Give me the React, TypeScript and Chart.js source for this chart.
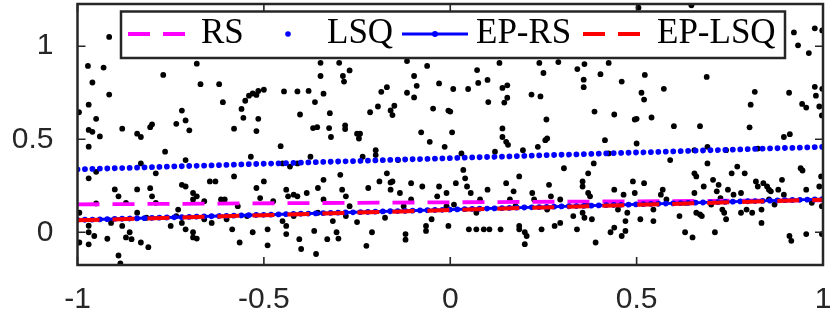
import React, { useEffect, useRef } from "react";
import { Chart, registerables } from "chart.js";

Chart.register(...registerables);

// ---- data ----
const xTickValues = [-1, -0.5, 0, 0.5, 1];
const yTickValues = [0, 0.5, 1];
const seriesNames = ["RS", "LSQ", "EP-RS", "EP-LSQ"];

const lineX = [-1, 1];
const rsY = [0.15, 0.172];
const lsqY = [0.338, 0.459];
const epRsY = [0.066, 0.178];
const epLsqY = [0.064, 0.175];

const sampleX = [
  -0.996, -0.972, -0.96, -0.97, -0.95, -0.97, -0.96, -0.94, -0.97, -0.93, -0.915, -0.915, -0.97, -0.95, -0.95, -0.995, -0.97, -0.97, -0.955, -0.995, -0.97, -0.92, -0.91, -0.9, -0.89, -0.885,
  -0.88, -0.84, -0.83, -0.805, -0.8, -0.89, -0.87, -0.84, -0.88, -0.87, -0.86, -0.855, -0.83, -0.81, -0.83, -0.805, -0.8, -0.79, -0.815, -0.84,
  -0.77, -0.765, -0.75, -0.735, -0.72, -0.71, -0.7, -0.73, -0.72, -0.71, -0.72, -0.71, -0.735, -0.79, -0.71,
  -0.68, -0.67, -0.69, -0.68, -0.69, -0.69, -0.68, -0.69, -0.66, -0.645, -0.63, -0.62, -0.61, -0.615, -0.64, -0.66, -0.605, -0.6,
  -0.58, -0.56, -0.555, -0.55, -0.54, -0.53, -0.52, -0.515, -0.515, -0.52, -0.535, -0.58, -0.57, -0.585, -0.565, -0.52, -0.53, -0.51, -0.545,
  -0.5, -0.49, -0.49, -0.475, -0.455, -0.45, -0.45, -0.44, -0.44, -0.435, -0.42, -0.41, -0.43, -0.41, -0.405, -0.4, -0.42, -0.44,
  -0.385, -0.375, -0.36, -0.365, -0.355, -0.355, -0.34, -0.34, -0.32, -0.315, -0.305, -0.3, -0.33,
  -0.295, -0.29, -0.28, -0.27, -0.25, -0.245, -0.235, -0.225, -0.21, -0.2, -0.2, -0.22, -0.28, -0.25,
  -0.19, -0.17, -0.16, -0.155, -0.16, -0.14, -0.125, -0.12, -0.12, -0.105, -0.135, -0.105, -0.175,
  -0.075, -0.065, -0.065, -0.055, -0.05, -0.035, -0.03, -0.015, -0.005, -0.01, -0.01,
  0.01, 0.03, 0.035, 0.015, 0.04, 0.045, 0.05, 0.055, 0.07, 0.07, 0.08, 0.09, 0.1,
  0.105, 0.12, 0.135, 0.14, 0.15, 0.155, 0.16, 0.15, 0.17, 0.175, 0.185, 0.185, 0.195, 0.2, 0.2, 0.185,
  0.205, 0.22, 0.235, 0.225, 0.245, 0.255, 0.26, 0.265, 0.27, 0.28, 0.295, 0.295, 0.26,
  0.305, 0.33, 0.34, 0.355, 0.355, 0.355, 0.36, 0.365, 0.375, 0.39, 0.385, 0.38, 0.37, 0.37,
  0.415, 0.425, 0.43, 0.44, 0.44, 0.45, 0.46, 0.465, 0.47, 0.49, 0.495, 0.475, 0.47,
  0.5, 0.51, 0.52, 0.545, 0.565, 0.57, 0.58, 0.59, 0.545,
  0.615, 0.63, 0.65, 0.655, 0.655, 0.66, 0.66, 0.67, 0.675, 0.69, 0.68, 0.69, 0.7, 0.655, 0.63,
  0.71, 0.705, 0.715, 0.72, 0.725, 0.73, 0.735, 0.74, 0.745, 0.755, 0.76, 0.77, 0.78, 0.78, 0.79, 0.795, 0.74,
  0.81, 0.82, 0.825, 0.835, 0.825, 0.835, 0.84, 0.85, 0.855, 0.855, 0.86, 0.87, 0.88, 0.895, 0.89, 0.895,
  0.91, 0.915, 0.94, 0.945, 0.955, 0.955, 0.995, 0.99, 0.997, 0.97, 0.997,
  -0.5, -0.348, -0.298, -0.27, -0.288, -0.285, -0.062, -0.348, -0.097, -0.09, -0.03, -0.116, -0.446, -0.41, -0.38, -0.34, -0.185, -0.17, -0.116, -0.097, -0.363, -0.403, -0.323, -0.215, -0.194, -0.16, -0.155, -0.15, -0.046, -0.005, -0.368, -0.357, -0.325, -0.282, -0.282, -0.242, -0.078,
  0.132, 0.239, 0.29, 0.36, 0.425, 0.072, 0.341, 0.25, 0.403, 0.075, 0.1, 0.008, 0.048, 0.14, 0.153, 0.358, 0.358, 0.46, 0.218, 0.242, 0.102, 0.153, 0.145, 0.0, 0.387, 0.44, 0.258, 0.495, 0.14, 0.005,
  0.505, 0.647, 0.922, 0.978, 0.998, 0.933, 0.962, 0.522, 0.688, 0.513, 0.52, 0.573, 0.817, 0.909, 0.978, 0.998, 0.981, 0.806, 0.944, 0.955, 0.99, 0.997, 0.5, 0.54, 0.6, 0.67, 0.803, 0.911,
];

const sampleY = [
  0.645, 0.894, 0.805, 0.686, 0.61, 0.55, 0.54, 0.515, 0.46, 0.885, 1.05, 0.74, 0.29, 0.325, 0.155, 0.105, 0.035, 0.0, -0.02, -0.055, -0.065, -0.035, 0.05, 0.23, -0.125, -0.168,
  0.557, 0.53, 0.512, 0.565, 0.58, 0.193, 0.158, 0.23, 0.034, -0.028, 0.0, -0.037, -0.055, -0.08, 0.37, 0.237, 0.193, 0.317, 0.078, 0.105,
  0.846, 0.433, 0.034, 0.583, 0.654, 0.601, 0.548, 0.122, 0.255, 0.246, 0.05, 0.016, 0.087, 0.158, 0.388,
  0.906, 0.796, 0.211, 0.193, 0.0, -0.028, -0.034, 0.176, 0.167, 0.273, 0.273, 0.796, 0.699, 0.176, 0.05, 0.07, 0.176, 0.07,
  0.557, 0.663, 0.615, 0.707, 0.734, 0.746, 0.738, 0.76, 0.61, 0.544, 0.406, 0.3, 0.14, 0.016, -0.055, 0.238, 0.0, 0.184, 0.087,
  0.273, 0.016, -0.07, 0.167, 0.463, 0.37, 0.06, 0.034, 0.229, 0.193, 0.202, 0.37, 0.353, 0.193, -0.037, -0.09, 0.087, -0.01,
  0.211, 0.406, -0.117, 0.007, 0.105, 0.238, 0.176, 0.282, 0.512, 0.06, 0.0, -0.034, -0.037,
  0.309, 0.229, 0.193, 0.14, 0.53, 0.504, 0.406, -0.073, 0.0, 0.441, 0.415, 0.238, 0.087, 0.055,
  0.273, 0.317, 0.268, 0.273, 0.229, 0.388, 0.14, -0.01, -0.04, 0.264, 0.211, 0.176, 0.078,
  0.246, 0.034, 0.007, 0.486, 0.07, 0.193, 0.246, 0.459, 0.034, 0.211, 0.14,
  0.149, 0.424, 0.335, 0.264, 0.29, 0.246, 0.016, 0.211, 0.016, 0.105, 0.176, 0.016, 0.229,
  0.016, 0.433, 0.016, 0.512, 0.486, 0.47, 0.176, 0.264, 0.22, 0.14, 0.016, 0.034, 0.441, 0.0, -0.064, 0.3,
  -0.02, 0.211, 0.459, 0.176, 0.016, 0.495, 0.504, 0.255, 0.193, 0.034, 0.176, 0.05, 0.122,
  0.344, 0.087, 0.016, 0.273, 0.246, 0.105, 0.078, 0.158, 0.193, -0.055, 0.37, 0.07, 0.211, 0.317,
  0.495, 0.424, 0.0, 0.025, 0.229, 0.122, -0.02, 0.202, 0.007, 0.273, 0.211, 0.105, 0.06,
  0.477, 0.07, 0.264, 0.06, 0.202, 0.229, 0.176, 0.388, 0.122,
  0.087, 0.0, -0.028, 0.211, 0.317, 0.3, 0.105, 0.096, 0.087, 0.37, 0.246, 0.459, 0.149, 0.441, 0.158,
  0.0, 0.282, 0.22, 0.255, 0.184, 0.122, 0.105, 0.07, 0.229, 0.317, 0.202, 0.353, 0.105, 0.211, 0.317, 0.122, 0.441,
  0.105, 0.273, 0.246, 0.122, 0.45, 0.05, 0.264, 0.246, 0.176, 0.229, 0.22, 0.149, 0.229, 0.512, 0.282, 0.202,
  -0.02, -0.046, 0.344, 0.332, 0.229, -0.01, 0.3, 0.246, -0.01, 0.158, 0.14,
  0.766, 0.911, 0.911, 0.87, 0.84, 0.81, 0.894, 0.84, 0.84, 0.787, 0.8, 0.92, 0.757, 0.757, 0.76, 0.745, 0.755, 0.78, 0.75, 0.725, 0.7, 0.633, 0.64, 0.645, 0.676, 0.655, 0.63, 0.68, 0.665, 0.654, 0.56, 0.565, 0.56, 0.575, 0.555, 0.53, 0.537,
  0.91, 0.91, 0.915, 0.904, 0.91, 0.872, 0.877, 0.856, 0.85, 0.803, 0.819, 0.77, 0.77, 0.776, 0.79, 0.82, 0.78, 0.81, 0.74, 0.73, 0.7, 0.723, 0.697, 0.649, 0.649, 0.633, 0.606, 0.606, 0.558, 0.537,
  1.207, 1.22, 1.074, 1.096, 1.085, 1.005, 0.963, 0.846, 0.835, 0.75, 0.713, 0.771, 0.755, 0.75, 0.782, 0.771, 0.734, 0.686, 0.69, 0.67, 0.676, 0.628, 0.61, 0.617, 0.57, 0.57, 0.564, 0.527,
];

const AXIS_COLOR = "#262626";

const framePlugin = {
  id: "matlabFrame",
  afterDraw(chart: any) {
    const { ctx, chartArea } = chart;
    const { left, right, top, bottom } = chartArea;
    const xs = chart.scales.x;
    const ys = chart.scales.y;
    ctx.save();
    // ticks (inward, all four sides)
    ctx.strokeStyle = AXIS_COLOR;
    ctx.lineWidth = 1.6;
    const tl = 8;
    ctx.beginPath();
    for (const v of xTickValues) {
      const px = xs.getPixelForValue(v);
      ctx.moveTo(px, bottom);
      ctx.lineTo(px, bottom - tl);
      ctx.moveTo(px, top);
      ctx.lineTo(px, top + tl);
    }
    for (const v of yTickValues) {
      const py = ys.getPixelForValue(v);
      ctx.moveTo(left, py);
      ctx.lineTo(left + tl, py);
      ctx.moveTo(right, py);
      ctx.lineTo(right - tl, py);
    }
    ctx.stroke();
    // box
    ctx.lineWidth = 2.5;
    ctx.strokeRect(left, top, right - left, bottom - top);

    // legend
    const lx0 = 121, lx1 = 785, ly0 = 11.5, ly1 = 58;
    ctx.fillStyle = "#ffffff";
    ctx.fillRect(lx0, ly0, lx1 - lx0, ly1 - ly0);
    ctx.strokeStyle = AXIS_COLOR;
    ctx.lineWidth = 2.5;
    ctx.strokeRect(lx0, ly0, lx1 - lx0, ly1 - ly0);

    const cy = 34;
    // RS sample
    ctx.lineCap = "butt";
    ctx.strokeStyle = "#FF00FF";
    ctx.lineWidth = 3.8;
    ctx.setLineDash([22, 13]);
    ctx.beginPath();
    ctx.moveTo(128, cy);
    ctx.lineTo(185, cy);
    ctx.stroke();
    // LSQ sample
    ctx.setLineDash([]);
    ctx.fillStyle = "#0000FF";
    ctx.beginPath();
    ctx.arc(288, cy, 2.8, 0, Math.PI * 2);
    ctx.fill();
    // EP-RS sample
    ctx.strokeStyle = "#0000FF";
    ctx.lineWidth = 2.8;
    ctx.beginPath();
    ctx.moveTo(402, cy);
    ctx.lineTo(468, cy);
    ctx.stroke();
    ctx.beginPath();
    ctx.arc(435, cy, 3, 0, Math.PI * 2);
    ctx.fill();
    // EP-LSQ sample
    ctx.strokeStyle = "#FF0000";
    ctx.lineWidth = 3.8;
    ctx.setLineDash([22, 13]);
    ctx.beginPath();
    ctx.moveTo(583, cy);
    ctx.lineTo(640, cy);
    ctx.stroke();
    ctx.setLineDash([]);

    ctx.fillStyle = "#000000";
    ctx.font = '35px "Liberation Serif", "DejaVu Serif", serif';
    ctx.textBaseline = "alphabetic";
    ctx.textAlign = "left";
    const textX = [201, 327, 476, 657];
    seriesNames.forEach((name, i) => ctx.fillText(name, textX[i], 43));
    ctx.restore();
  },
};

const toPts = (xsArr: number[], ysArr: number[]) =>
  xsArr.map((x, i) => ({ x, y: ysArr[i] }));

export default function App() {
  const ref = useRef<HTMLCanvasElement | null>(null);

  useEffect(() => {
    if (!ref.current) return;
    const dotDash = [0.01, 7.44];
    const chart = new Chart(ref.current, {
      type: "scatter",
      data: {
        datasets: [
          {
            label: "samples",
            data: toPts(sampleX, sampleY),
            pointRadius: 2.9,
            pointBackgroundColor: "#000000",
            pointBorderWidth: 0,
            showLine: false,
            order: 6,
          },
          {
            label: seriesNames[0],
            data: toPts(lineX, rsY),
            showLine: true,
            borderColor: "#FF00FF",
            borderWidth: 3.8,
            borderDash: [22, 13],
            pointRadius: 0,
            order: 5,
          },
          {
            label: seriesNames[1],
            data: toPts(lineX, lsqY),
            showLine: true,
            borderColor: "#0000FF",
            borderWidth: 5.8,
            borderDash: dotDash,
            borderCapStyle: "round",
            pointRadius: 0,
            order: 4,
          },
          {
            label: seriesNames[2],
            data: toPts(lineX, epRsY),
            showLine: true,
            borderColor: "#0000FF",
            borderWidth: 2.8,
            pointRadius: 0,
            order: 3,
          },
          {
            label: seriesNames[2] + " markers",
            data: toPts(lineX, epRsY),
            showLine: true,
            borderColor: "#0000FF",
            borderWidth: 5.8,
            borderDash: dotDash,
            borderCapStyle: "round",
            pointRadius: 0,
            order: 2,
          },
          {
            label: seriesNames[3],
            data: toPts(lineX, epLsqY),
            showLine: true,
            borderColor: "#FF0000",
            borderWidth: 4,
            borderDash: [22, 13],
            pointRadius: 0,
            order: 1,
          },
        ],
      } as any,
      options: {
        animation: false,
        responsive: false,
        maintainAspectRatio: false,
        layout: { padding: { left: 0, right: 7, top: 2.5, bottom: 0 } },
        plugins: {
          legend: { display: false },
          tooltip: { enabled: false },
        },
        scales: {
          x: {
            type: "linear",
            min: -1,
            max: 1,
            grid: { display: false, drawTicks: false },
            border: { display: false },
            afterBuildTicks: (s: any) => {
              s.ticks = xTickValues.map((v) => ({ value: v }));
            },
            afterFit: (s: any) => {
              s.height = 45;
              s.paddingLeft = 0;
              s.paddingRight = 0;
            },
            ticks: {
              padding: 17,
              maxRotation: 0,
              autoSkip: false,
              color: AXIS_COLOR,
              font: { family: '"Liberation Sans", Arial, sans-serif', size: 30 },
              callback: (v: any) => String(v),
            },
          },
          y: {
            type: "linear",
            min: -0.176,
            max: 1.227,
            grid: { display: false, drawTicks: false },
            border: { display: false },
            afterBuildTicks: (s: any) => {
              s.ticks = yTickValues.map((v) => ({ value: v }));
            },
            afterFit: (s: any) => {
              s.width = 77.5;
              s.paddingTop = 0;
              s.paddingBottom = 0;
            },
            ticks: {
              padding: 24,
              autoSkip: false,
              color: AXIS_COLOR,
              font: { family: '"Liberation Sans", Arial, sans-serif', size: 30 },
              callback: (v: any) => String(v),
            },
          },
        },
      } as any,
      plugins: [framePlugin],
    });
    return () => chart.destroy();
  }, []);

  return (
    <div style={{ position: "absolute", left: 0, top: 0, width: 830, height: 310, background: "#fff" }}>
      <canvas ref={ref} width={830} height={310} style={{ display: "block" }} />
    </div>
  );
}
